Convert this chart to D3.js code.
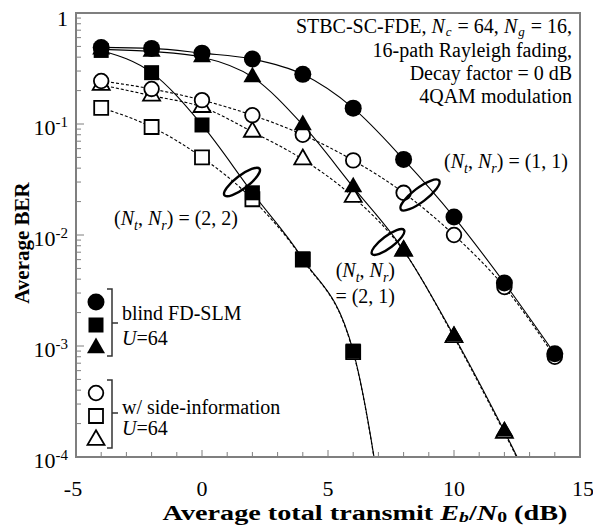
<!DOCTYPE html>
<html>
<head>
<meta charset="utf-8">
<script src="https://cdn.jsdelivr.net/npm/d3@7"></script>
<style>
  body { margin: 0; background: #fff; }
  svg { display: block; font-family: "Liberation Serif", "Times New Roman", serif; }
</style>
</head>
<body>
<div id="chart"></div>
<script>
// values (BER vs Eb/N0 in dB)
const snr = [-4, -2, 0, 2, 4, 6, 8, 10, 12, 14];
const blind11 = [0.49, 0.48, 0.435, 0.385, 0.28, 0.139, 0.048, 0.0145, 0.0037, 0.00085];
const side11  = [0.244, 0.207, 0.164, 0.12, 0.080, 0.047, 0.024, 0.010, 0.0034, 0.0008];
const blind22 = [0.46, 0.29, 0.098, 0.024, 0.0061, 0.0009, 0.0000012];
const side22  = [0.14, 0.094, 0.050, 0.021, 0.0060, 0.00088, 0.0000012];
const blind21 = [0.47, 0.45, 0.40, 0.265, 0.098, 0.027, 0.0073, 0.00123, 0.00017, 0.00002];
const side21  = [0.225, 0.18, 0.142, 0.085, 0.048, 0.022, 0.0072, 0.0012, 0.000165, 0.00002];
const xTicks = [-5, 0, 5, 10, 15];
const yTicks = [1, 1e-1, 1e-2, 1e-3, 1e-4];

let width = 593, height = 525,
    margin = ({ top: 13, right: 13, bottom: 68, left: 76 });

const svg = d3.select("#chart").append("svg")
    .attr("width", width).attr("height", height);

let x = d3.scaleLinear().domain([-5, 15]).range([margin.left, width - margin.right]);
let y = d3.scaleLog().domain([1e-4, 1]).range([height - margin.bottom, margin.top]);

const grey = "#7f7f7f";

svg.append("clipPath").attr("id", "clip")
  .append("rect")
    .attr("x", x(-5)).attr("y", y(1))
    .attr("width", x(15) - x(-5)).attr("height", y(1e-4) - y(1));

// helper for text with italic / sub / sup pieces
function rich(sel, px, py, parts, opts = {}) {
  const t = sel.append("text")
    .attr("x", px).attr("y", py)
    .attr("font-size", opts.size || 20)
    .attr("font-weight", opts.bold ? "bold" : null)
    .attr("text-anchor", opts.anchor || "start");
  let shift = 0;
  parts.forEach(p => {
    const o = typeof p === "string" ? { t: p } : p;
    const target = o.sub ? (opts.subShift || 5) : o.sup ? -8 : 0;
    t.append("tspan")
      .attr("dy", target - shift)
      .attr("dx", o.dx || null)
      .attr("font-style", o.i ? "italic" : null)
      .attr("font-size", (o.sub || o.sup) ? (opts.subSize || 14) : null)
      .text(o.t);
    shift = target;
  });
  return t;
}

// axes: ticks pointing inward
const ax = svg.append("g").attr("stroke", grey);
d3.range(-5, 16, 1).forEach(v => {
  ax.append("line")
    .attr("x1", x(v)).attr("x2", x(v))
    .attr("y1", y(1e-4)).attr("y2", y(1e-4) - (v % 5 === 0 ? 7 : 5))
    .attr("stroke-width", 1);
});
[1e-4, 1e-3, 1e-2, 1e-1].forEach(d => {
  d3.range(1, 10).forEach(m => {
    const v = d * m;
    ax.append("line")
      .attr("x1", x(-5)).attr("x2", x(-5) + (m === 1 ? 8 : 5))
      .attr("y1", y(v)).attr("y2", y(v))
      .attr("stroke-width", 1);
  });
});

const series = [
  { v: side21,  shape: "tri",  fill: false },
  { v: side22,  shape: "sq",   fill: false },
  { v: side11,  shape: "circ", fill: false },
  { v: blind21, shape: "tri",  fill: true },
  { v: blind22, shape: "sq",   fill: true },
  { v: blind11, shape: "circ", fill: true }
];

function symbolPath(shape, filled) {
  if (shape === "circ") return d3.symbol(d3.symbolCircle, Math.PI * (filled ? 8.5 : 7.3) ** 2)();
  if (shape === "sq") return d3.symbol(d3.symbolSquare, (filled ? 15 : 14) ** 2)();
  return d3.symbol(d3.symbolTriangle, Math.sqrt(3) / 4 * (filled ? 18 : 17) ** 2)();
}

const line = d3.line()
  .x((d, i) => x(snr[i]))
  .y(d => y(d))
  .curve(d3.curveMonotoneX);

const plot = svg.append("g").attr("clip-path", "url(#clip)");
series.forEach(s => {
  plot.append("path")
    .attr("d", line(s.v))
    .attr("fill", "none")
    .attr("stroke", "#000")
    .attr("stroke-width", 1.1)
    .attr("stroke-dasharray", s.fill ? null : "3,2");
});
series.forEach(s => {
  plot.append("g").selectAll("path")
    .data(s.v.map((v, i) => [snr[i], v]).filter(d => d[1] >= 1e-4))
    .join("path")
    .attr("transform", d => `translate(${x(d[0])},${y(d[1])})`)
    .attr("d", symbolPath(s.shape, s.fill))
    .attr("fill", s.fill ? "#000" : "#fff")
    .attr("stroke", "#000")
    .attr("stroke-width", s.fill ? 0 : 1.8);
});

// frame
svg.append("rect")
  .attr("x", x(-5)).attr("y", y(1))
  .attr("width", x(15) - x(-5)).attr("height", y(1e-4) - y(1))
  .attr("fill", "none").attr("stroke", grey).attr("stroke-width", 2);

// tick labels
xTicks.forEach(v => {
  svg.append("text")
    .attr("x", x(v) - (v < 0 ? 3 : 0) + (v === 15 ? 3 : 0)).attr("y", 496)
    .attr("text-anchor", "middle").attr("font-size", 22)
    .text(v);
});
yTicks.forEach(v => {
  const e = Math.round(Math.log10(v));
  if (e === 0) rich(svg, 68, y(v) + 13, ["1"], { anchor: "end", size: 22 });
  else rich(svg, 68, y(v) + 11, ["10", { t: "-" + (-e), sup: true }], { anchor: "end", size: 22, subSize: 15 });
});

// axis titles (x title is wide in the original, stretch it horizontally)
const xt = rich(svg, 0, 0, ["Average total transmit ", { t: "E", i: true }, { t: "b", i: true, sub: true },
  "/", { t: "N", i: true }, { t: "0", sub: true }, " (dB)"],
  { bold: true, anchor: "middle", size: 20, subSize: 14, subShift: 2 });
const xtw = xt.node().getBBox().width;
xt.attr("transform", `translate(365,520) scale(${405 / xtw},1)`);

svg.append("text")
  .attr("transform", "translate(29,243) rotate(-90)")
  .attr("text-anchor", "middle").attr("font-size", 21).attr("font-weight", "bold")
  .text("Average BER");

// condition text
const info = svg.append("g");
rich(info, 572, 33, ["STBC-SC-FDE, ", { t: "N", i: true }, { t: "c", i: true, sub: true, dx: 1 },
  { t: " = 64, ", dx: 1 }, { t: "N", i: true }, { t: "g", i: true, sub: true, dx: 1 },
  { t: " = 16,", dx: 1 }], { anchor: "end", subShift: 3, subSize: 13 });
rich(info, 572, 57, ["16-path Rayleigh fading,"], { anchor: "end" });
rich(info, 572, 80, ["Decay factor = 0 dB"], { anchor: "end" });
rich(info, 572, 103, ["4QAM modulation"], { anchor: "end" });

// curve group labels
const nt = [{ t: "(" }, { t: "N", i: true }, { t: "t", i: true, sub: true }, ", ",
  { t: "N", i: true }, { t: "r", i: true, sub: true }, ")"];
rich(svg, 568, 168, nt.concat([" = (1, 1)"]), { anchor: "end" });
rich(svg, 238, 225, nt.concat([" = (2, 2)"]), { anchor: "end" });
rich(svg, 395, 277, nt, { anchor: "end" });
rich(svg, 395, 303, ["= (2, 1)"], { anchor: "end" });

// ellipses marking the curve pairs
[[420, 195, 24, 7], [388, 242, 20, 6], [242, 182, 22, 6.5]].forEach(e => {
  svg.append("ellipse")
    .attr("transform", `translate(${e[0]},${e[1]}) rotate(-37)`)
    .attr("rx", e[2]).attr("ry", e[3])
    .attr("fill", "none").attr("stroke", "#000").attr("stroke-width", 2.4);
});

// legend
const legendRows = [
  { shapes: ["circ", "sq", "tri"], fill: true, ys: [302, 325, 348], br: [289, 356, 323],
    label: ["blind FD-SLM"], ty: [320, 345] },
  { shapes: ["circ", "sq", "tri"], fill: false, ys: [393, 416, 440], br: [380, 448, 413],
    label: ["w/ side-information"], ty: [414, 435] }
];
const lg = svg.append("g");
legendRows.forEach(r => {
  r.shapes.forEach((sh, i) => {
    lg.append("path")
      .attr("transform", `translate(96,${r.ys[i]})`)
      .attr("d", symbolPath(sh, r.fill))
      .attr("fill", r.fill ? "#000" : "#fff")
      .attr("stroke", "#000").attr("stroke-width", r.fill ? 0 : 1.8);
  });
  lg.append("path")
    .attr("d", `M107,${r.br[0]}H112V${r.br[1]}H107M112,${r.br[2]}H118`)
    .attr("fill", "none").attr("stroke", "#333").attr("stroke-width", 1.5);
  rich(lg, 122, r.ty[0], r.label);
  rich(lg, 122, r.ty[1], [{ t: "U", i: true }, "=64"]);
});
</script>
</body>
</html>
